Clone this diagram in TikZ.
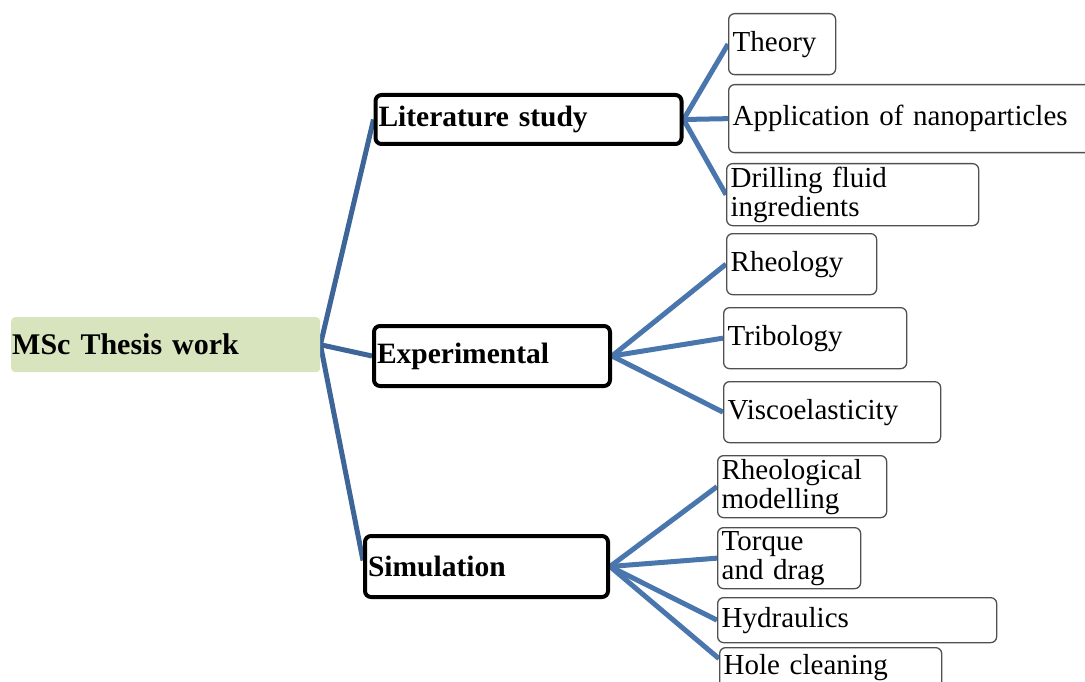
\documentclass[tikz,border=0pt]{standalone}
\usepackage{fontspec}
\setmainfont{Liberation Serif}
\usetikzlibrary{backgrounds}
\definecolor{rootgreen}{RGB}{215,228,189}
\definecolor{linkblue}{RGB}{74,118,174}
\definecolor{trunkblue}{RGB}{62,101,151}
\definecolor{leafgray}{RGB}{80,80,80}
\tikzset{
  mainbox/.style={fill=rootgreen, rounded corners=4pt, anchor=north west, inner xsep=1pt, align=left, font=\fontsize{30}{30}\selectfont\bfseries},
  topicbox/.style={draw=black, line width=4pt, rounded corners=6pt, fill=white, anchor=north west, inner xsep=3pt, align=left, font=\fontsize{29.5}{30}\selectfont\bfseries},
  leafbox/.style={draw=leafgray, line width=1.3pt, rounded corners=6pt, fill=white, anchor=north west, inner xsep=4pt, inner ysep=0pt, align=left, font=\fontsize{29}{29}\selectfont},
  trunk/.style={trunkblue, line width=5pt},
  branch/.style={linkblue, line width=5pt}
}
\begin{document}
\begin{tikzpicture}[x=1pt,y=-1pt]
\useasboundingbox (0,0) rectangle (1085,682);
%root
\node [mainbox, text width=307pt, minimum height=55pt] (thesis) at (11,317) {MSc Thesis work};
%topics
\node [topicbox, text width=300pt, minimum height=49pt] (lit) at (373.5,93) {Literature study};
\node [topicbox, text width=230pt, minimum height=60pt] (exp) at (372,324) {Experimental};
\node [topicbox, text width=237pt, minimum height=61pt] (sim) at (363,534) {Simulation};
%literature
\node [leafbox, text width=99pt, minimum height=61pt] (theory) at (728,13) {Theory};
\node [leafbox, text width=372pt, minimum height=68pt] (nano) at (728,84) {Application of nanoparticles};
\node [leafbox, text width=244pt, minimum height=62pt] (fluid) at (726,163) {Drilling fluid\\ingredients};
%experimental
\node [leafbox, text width=142pt, minimum height=61pt] (rheo) at (726,233) {Rheology};
\node [leafbox, text width=175pt, minimum height=61pt] (tribo) at (723,307) {Tribology};
\node [leafbox, text width=209pt, minimum height=61pt] (visco) at (723,381) {Viscoelasticity};
%simulation
\node [leafbox, text width=161pt, minimum height=62pt] (model) at (717,455) {Rheological\\modelling};
\node [leafbox, text width=135pt, minimum height=61pt] (torque) at (717,527) {Torque\\and drag};
\node [leafbox, text width=271pt, minimum height=45pt] (hydro) at (717,597) {Hydraulics};
\node [leafbox, text width=214pt, minimum height=40pt] (hole) at (719,647) {Hole cleaning};
%
\begin{scope}[on background layer]
\draw [trunk] (thesis.east) -- (lit.west);
\draw [trunk] (thesis.east) -- (exp.west);
\draw [trunk] (thesis.east) -- ([yshift=6pt]sim.west);
%
\draw [branch] (lit.east) -- (theory.west);
\draw [branch] (lit.east) -- (nano.west);
\draw [branch] (lit.east) -- (fluid.west);
%
\draw [branch] (exp.east) -- (rheo.west);
\draw [branch] (exp.east) -- (tribo.west);
\draw [branch] (exp.east) -- (visco.west);
%
\draw [branch] (sim.east) -- (model.west);
\draw [branch] (sim.east) -- (torque.west);
\draw [branch] (sim.east) -- (hydro.west);
\draw [branch] (sim.east) -- ([yshift=9pt]hole.west);
\end{scope}
\end{tikzpicture}
\end{document}
